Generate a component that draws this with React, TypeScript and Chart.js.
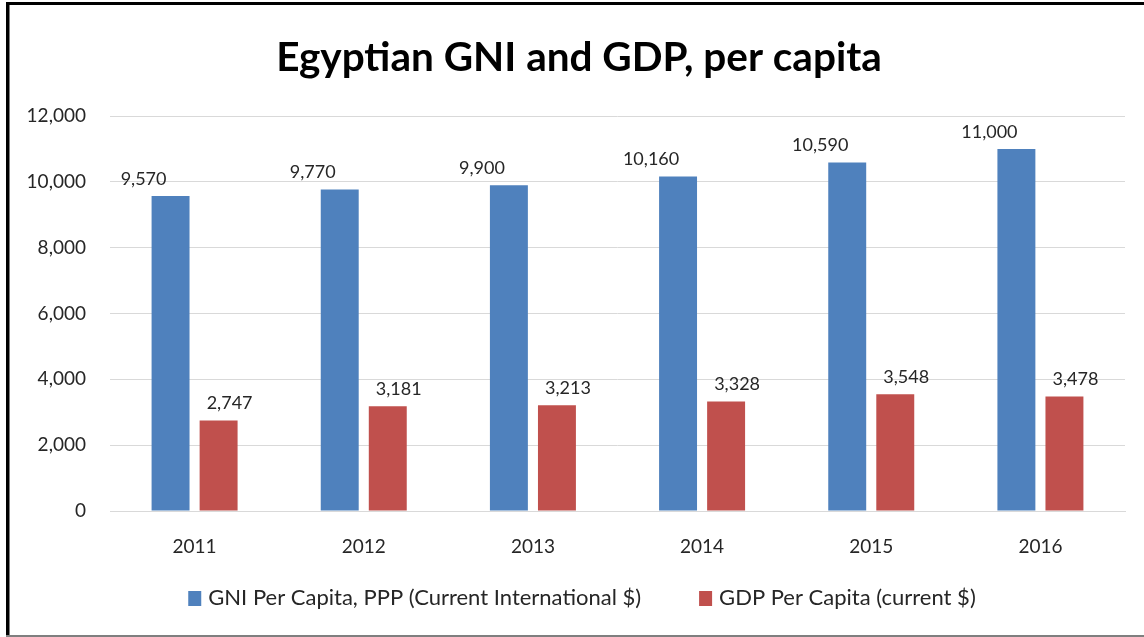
import React, { useEffect, useRef } from "react";
import { Chart, registerables } from "chart.js";

Chart.register(...registerables);

const years = ["2011", "2012", "2013", "2014", "2015", "2016"];
const gniPerCapita = [9570, 9770, 9900, 10160, 10590, 11000];
const gdpPerCapita = [2747, 3181, 3213, 3328, 3548, 3478];
const seriesNames = [
  "GNI Per Capita, PPP (Current International $)",
  "GDP Per Capita (current $)",
];
const titleText = "Egyptian GNI and GDP, per capita";

const BLUE = "#4F81BD";
const RED = "#C0504D";
const TEXT = "#262626";
const GRID = "#d9d9d9";
const FONT = "Lato, 'Open Sans', sans-serif";
const labelShift = [-27, 11];

const fmt = (v: number) => v.toLocaleString("en-US");

const framePlugin = {
  id: "frame",
  beforeDraw(chart: any) {
    const ctx = chart.ctx;
    ctx.save();
    ctx.fillStyle = "#ffffff";
    ctx.fillRect(0, 0, chart.width, chart.height);
    ctx.restore();
  },
  afterDraw(chart: any) {
    const ctx = chart.ctx;
    ctx.save();
    ctx.fillStyle = "#000000";
    ctx.fillRect(6, 2, 3, chart.height - 2);
    ctx.fillRect(6, 2, chart.width - 6, 3);
    ctx.fillStyle = "#7f7f7f";
    ctx.fillRect(9, 5, 1, chart.height - 5);
    ctx.fillRect(6, chart.height - 2, chart.width - 6, 2);
    ctx.font = `bold 40.5px ${FONT}`;
    ctx.fillStyle = "#000000";
    ctx.textAlign = "center";
    ctx.textBaseline = "middle";
    ctx.fillText(chart.options.plugins.customTitle.text, 579, 58);
    ctx.restore();
  },
};

const valueLabelPlugin = {
  id: "valueLabels",
  afterDatasetsDraw(chart: any) {
    const ctx = chart.ctx;
    ctx.save();
    ctx.font = `18px ${FONT}`;
    ctx.fillStyle = TEXT;
    ctx.textAlign = "center";
    ctx.textBaseline = "middle";
    chart.data.datasets.forEach((ds: any, di: number) => {
      const meta = chart.getDatasetMeta(di);
      meta.data.forEach((el: any, i: number) => {
        ctx.fillText(fmt(ds.data[i]), el.x + labelShift[di], el.y - 17);
      });
    });
    ctx.restore();
  },
};

const legendPlugin = {
  id: "customLegend",
  afterDraw(chart: any) {
    const ctx = chart.ctx;
    ctx.save();
    ctx.font = `22px ${FONT}`;
    ctx.textBaseline = "middle";
    ctx.textAlign = "left";
    const box = 13;
    const gap = 7;
    const spacing = 58;
    const items = chart.data.datasets.map((ds: any) => ({
      text: ds.label,
      color: ds.backgroundColor,
      w: box + gap + ctx.measureText(ds.label).width,
    }));
    const total =
      items.reduce((a: number, it: any) => a + it.w, 0) + spacing * (items.length - 1);
    let x = 582 - total / 2;
    const y = 598;
    items.forEach((it: any) => {
      ctx.fillStyle = it.color;
      ctx.fillRect(x, y - 7, box, 15);
      ctx.fillStyle = TEXT;
      ctx.fillText(it.text, x + box + gap, y);
      x += it.w + spacing;
    });
    ctx.restore();
  },
};

export default function App() {
  const ref = useRef<HTMLCanvasElement | null>(null);

  useEffect(() => {
    if (!ref.current) return;
    const chart = new Chart(ref.current, {
      type: "bar",
      data: {
        labels: years,
        datasets: [
          {
            label: seriesNames[0],
            data: gniPerCapita,
            backgroundColor: BLUE,
            categoryPercentage: 0.568,
            barPercentage: 0.79,
          },
          {
            label: seriesNames[1],
            data: gdpPerCapita,
            backgroundColor: RED,
            categoryPercentage: 0.568,
            barPercentage: 0.79,
          },
        ],
      },
      options: {
        responsive: false,
        maintainAspectRatio: false,
        animation: false,
        layout: { padding: { left: 10, right: 19, top: 116, bottom: 0 } },
        plugins: {
          legend: { display: false },
          tooltip: { enabled: false },
          title: { display: false },
          customTitle: { text: titleText },
        },
        scales: {
          x: {
            grid: { display: false, drawTicks: false },
            border: { display: true, color: GRID, width: 1 },
            ticks: { color: TEXT, font: { family: FONT, size: 19 }, padding: 24 },
            afterFit: (s: any) => {
              s.height = 126;
            },
          },
          y: {
            min: 0,
            max: 12000,
            grid: { color: GRID, drawTicks: false },
            border: { display: false },
            ticks: {
              stepSize: 2000,
              color: TEXT,
              font: { family: FONT, size: 19 },
              padding: 24,
              callback: (v: any) => fmt(Number(v)),
            },
            afterFit: (s: any) => {
              s.width = 100;
            },
          },
        },
      },
      plugins: [framePlugin, valueLabelPlugin, legendPlugin],
    } as any);
    return () => chart.destroy();
  }, []);

  return (
    <div style={{ position: "fixed", left: 0, top: 0, width: 1144, height: 637 }}>
      <canvas ref={ref} width={1144} height={637} style={{ width: 1144, height: 637 }} />
    </div>
  );
}
